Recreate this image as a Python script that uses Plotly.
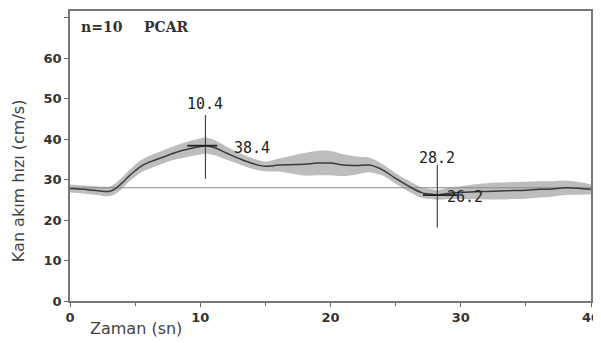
import plotly.graph_objects as go

time = [0, 1, 2, 3, 3.5, 4, 4.5, 5, 5.5, 6, 7, 8, 9, 10, 10.4, 11, 12, 13, 14, 15,
        16, 17, 18, 19, 20, 21, 22, 23, 24, 25, 26, 27, 28, 28.2,
        29, 30, 31, 32, 33, 34, 35, 36, 37, 38, 39, 40]
mean = [27.8, 27.6, 27.3, 27.1, 27.8, 29.2, 30.8, 32.2, 33.4, 34.2,
        35.4, 36.6, 37.5, 38.2, 38.4, 38.0, 36.6, 35.2, 34.0, 33.3,
        33.6, 33.7, 33.8, 34.1, 34.1, 33.6, 33.5, 33.6, 32.4, 30.3, 28.4, 26.8, 26.3, 26.2,
        26.6, 26.8, 27.0, 27.1, 27.2, 27.3, 27.4, 27.6, 27.7, 28.0, 27.9, 27.6]
sd = [1.0, 1.0, 1.1, 1.2, 1.3, 1.4, 1.4, 1.5, 1.5, 1.6,
      1.6, 1.7, 1.9, 2.0, 2.0, 1.9, 1.6, 1.4, 1.3, 1.2,
      1.6, 2.2, 2.8, 3.0, 3.0, 2.7, 2.2, 1.8, 1.4, 1.3, 1.3, 1.3, 1.2, 1.2,
      1.4, 1.6, 1.8, 2.0, 2.1, 2.1, 2.1, 2.0, 1.9, 1.8, 1.6, 1.2]
baseline = 28
peak = (10.4, 38.4)
trough = (28.2, 26.2)
peak_bar = (30.2, 46.0)
trough_bar = (18.2, 33.7)
peak_seg = (9.0, 11.3)
trough_seg = (27.1, 29.7)
y_ticks = [0, 10, 20, 30, 40, 50, 60, 70]
y_labels = ["0", "10", "20", "30", "40", "50", "60", ""]
x_ticks = [0, 10, 20, 30, 40]

upper = [m + s for m, s in zip(mean, sd)]
lower = [m - s for m, s in zip(mean, sd)]

fig = go.Figure()
fig.add_trace(go.Scatter(x=time, y=upper, mode="lines", line=dict(width=0, shape="spline"),
                         hoverinfo="skip", showlegend=False))
fig.add_trace(go.Scatter(x=time, y=lower, mode="lines", line=dict(width=0, shape="spline"),
                         fill="tonexty", fillcolor="#bdbdbd", hoverinfo="skip", showlegend=False))
fig.add_trace(go.Scatter(x=[0, 40.7], y=[baseline, baseline], mode="lines",
                         line=dict(color="#8a8a8a", width=1.2), cliponaxis=False, showlegend=False))
fig.add_trace(go.Scatter(x=time, y=mean, mode="lines", line=dict(color="#3a3a3a", width=1.5, shape="spline"),
                         showlegend=False))
fig.add_trace(go.Scatter(x=[peak[0], peak[0]], y=list(peak_bar), mode="lines",
                         line=dict(color="#444", width=1.2), showlegend=False))
fig.add_trace(go.Scatter(x=[trough[0], trough[0]], y=list(trough_bar), mode="lines",
                         line=dict(color="#444", width=1.2), showlegend=False))
fig.add_trace(go.Scatter(x=list(peak_seg), y=[peak[1], peak[1]], mode="lines",
                         line=dict(color="#222", width=1.8), showlegend=False))
fig.add_trace(go.Scatter(x=list(trough_seg), y=[trough[1], trough[1]], mode="lines",
                         line=dict(color="#222", width=1.8), showlegend=False))

mono = dict(family="DejaVu Sans Mono", size=15, color="#222")
fig.add_annotation(x=peak[0], y=48.6, text=f"{peak[0]}", showarrow=False, font=mono)
fig.add_annotation(x=13.95, y=37.8, text=f"{peak[1]}", showarrow=False, font=mono)
fig.add_annotation(x=trough[0], y=35.4, text=f"{trough[0]}", showarrow=False, font=mono)
fig.add_annotation(x=30.3, y=25.6, text=f"{trough[1]}", showarrow=False, font=mono)

W, H = 522, 292.5
serif = dict(family="DejaVu Serif", size=14, color="#333", weight="bold")
fig.add_annotation(xref="paper", yref="paper", x=(79 - 70) / W, y=1 - (25 - 9) / H,
                   text="n=10", showarrow=False, xanchor="left", yanchor="middle", font=serif)
fig.add_annotation(xref="paper", yref="paper", x=(142 - 70) / W, y=1 - (25 - 9) / H,
                   text="PCAR", showarrow=False, xanchor="left", yanchor="middle", font=serif)
fig.add_annotation(xref="paper", yref="paper", x=(88 - 70) / W, y=-(329 - 301.5) / H,
                   text="Zaman (sn)", showarrow=False, xanchor="left", yanchor="middle",
                   font=dict(family="DejaVu Sans", size=16, color="#444"))
fig.add_annotation(xref="paper", yref="paper", x=(18.5 - 70) / W, y=1 - (180 - 9) / H,
                   text="Kan akım hızı (cm/s)", showarrow=False, textangle=-90,
                   xanchor="center", yanchor="middle",
                   font=dict(family="DejaVu Sans", size=16, color="#444"))

tickfont = dict(family="DejaVu Sans", size=13, color="#333", weight="bold")
fig.update_layout(
    width=593, height=335,
    margin=dict(l=62, r=9, t=1, b=41.5),
    paper_bgcolor="white", plot_bgcolor="white",
    xaxis=dict(range=[0, 40], tickvals=x_ticks, ticks="outside", ticklen=4, tickcolor="#666",
               showgrid=False, zeroline=False, showline=True, linecolor="#777", linewidth=1.5,
               mirror=True, tickfont=tickfont, ticklabeloverflow="allow",
               minor=dict(ticks="outside", dtick=5, ticklen=3, tickcolor="#666")),
    yaxis=dict(range=[0, 71.7], tickvals=y_ticks, ticktext=y_labels, ticks="outside", ticklen=4,
               tickcolor="#666", showgrid=False, zeroline=False, showline=True, linecolor="#777",
               linewidth=1.5, mirror=True, tickfont=tickfont),
)
fig.write_html("out.html")
